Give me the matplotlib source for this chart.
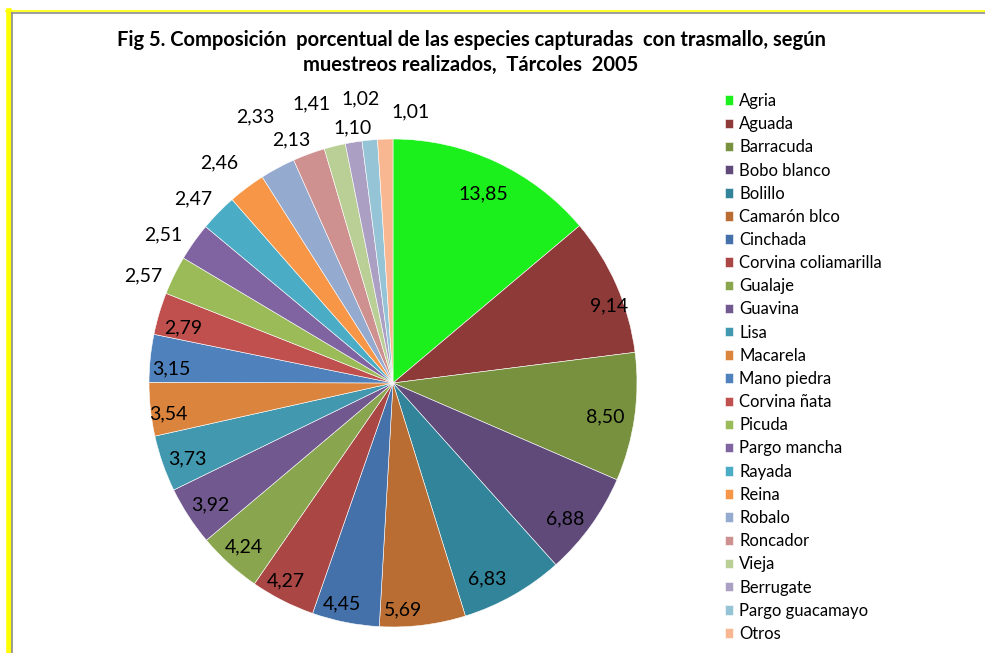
import numpy as np
import matplotlib
matplotlib.use("Agg")
import matplotlib.pyplot as plt
from matplotlib.lines import Line2D

plt.rcParams['font.family'] = ['Lato', 'DejaVu Sans']

species = ["Agria", "Aguada", "Barracuda", "Bobo blanco", "Bolillo", "Camarón blco",
           "Cinchada", "Corvina coliamarilla", "Gualaje", "Guavina", "Lisa", "Macarela",
           "Mano piedra", "Corvina ñata", "Picuda", "Pargo mancha", "Rayada", "Reina",
           "Robalo", "Roncador", "Vieja", "Berrugate", "Pargo guacamayo", "Otros"]
percent = [13.85, 9.14, 8.50, 6.88, 6.83, 5.69, 4.45, 4.27, 4.24, 3.92, 3.73, 3.54,
           3.15, 2.79, 2.57, 2.51, 2.47, 2.46, 2.33, 2.13, 1.41, 1.10, 1.02, 1.01]
colors = ["#1CF01C", "#8E3A38", "#77913F", "#5F4A7A", "#31849A", "#B96D32",
          "#4571AA", "#AA4644", "#89A54E", "#71588F", "#4198AF", "#DB843D",
          "#4F81BD", "#C0504D", "#9BBB59", "#8064A2", "#4BACC6", "#F79646",
          "#95AACF", "#CF9190", "#BACF96", "#AC9FC4", "#95C4D6", "#F8B790"]
# label placement style: radius factor and angular nudge (deg)
lab_r = [0.86, 0.94, 0.88, 0.90, 0.89, 0.93, 0.93, 0.92, 0.91, 0.90, 0.90, 0.93,
         0.91, 0.89, 1.115, 1.12, 1.115, 1.15, 1.23, 1.08, 1.19, 1.06, 1.17, 1.115]
lab_dt = [-0.5, -4, -1, -2.5, -4, -4.5, -1.9, -1.5, 0, 0.5, 1, 1.7,
          2.2, 1.8, 3, 2.5, 1.7, 1.4, -0.8, 2.6, 2.4, -0.4, 1, -5.5]

W, H = 985, 653
fig = plt.figure(figsize=(W / 100, H / 100), dpi=100)

cx, cy, R = 393, 383, 244
lim = 1.2
size = 2 * lim * R
ax = fig.add_axes([(cx - size / 2) / W, (H - cy - size / 2) / H, size / W, size / H])
wedges, _ = ax.pie(percent, colors=colors, startangle=90, counterclock=False,
                   radius=1.0, wedgeprops=dict(linewidth=0.4, edgecolor="white"))
ax.set_xlim(-lim, lim)
ax.set_ylim(-lim, lim)
ax.set_aspect('equal')
ax.axis('off')

total = sum(percent)
cum = 0.0
for i, v in enumerate(percent):
    mid = 90 - (cum + v / 2) / total * 360 + lab_dt[i]
    cum += v
    a = np.deg2rad(mid)
    ax.text(lab_r[i] * np.cos(a), lab_r[i] * np.sin(a), f"{v:.2f}".replace(".", ","),
            ha="center", va="center", fontsize=14, color="black", clip_on=False)

fig.text(471 / W, 1 - 40 / H,
         "Fig 5. Composición  porcentual de las especies capturadas  con trasmallo, según",
         ha="center", va="center", fontsize=14.5, fontweight="bold")
fig.text(471 / W, 1 - 65 / H, "muestreos realizados,  Tárcoles  2005",
         ha="center", va="center", fontsize=14.5, fontweight="bold")

leg = fig.legend(wedges, species, loc="upper left",
                 bbox_to_anchor=(725 / W, 1 - 93 / H), frameon=False,
                 fontsize=12, handlelength=0.5, handleheight=0.5, handletextpad=0.35,
                 labelspacing=0.43, borderpad=0, borderaxespad=0)

# borders
fig.add_artist(Line2D([8.5 / W, 8.5 / W], [0, 1 - 11 / H], color="#FFFF00", lw=4, transform=fig.transFigure))
fig.add_artist(Line2D([6 / W, 1], [1 - 11 / H, 1 - 11 / H], color="#FFFF00", lw=1.2, transform=fig.transFigure))
fig.add_artist(Line2D([12 / W, 12 / W], [0, 1 - 12.5 / H], color="#8C8C8C", lw=1.2, transform=fig.transFigure))
fig.add_artist(Line2D([12 / W, 1], [1 - 12.5 / H, 1 - 12.5 / H], color="#8C8C8C", lw=1.2, transform=fig.transFigure))

fig.savefig("out.png", dpi=100, facecolor="white")
